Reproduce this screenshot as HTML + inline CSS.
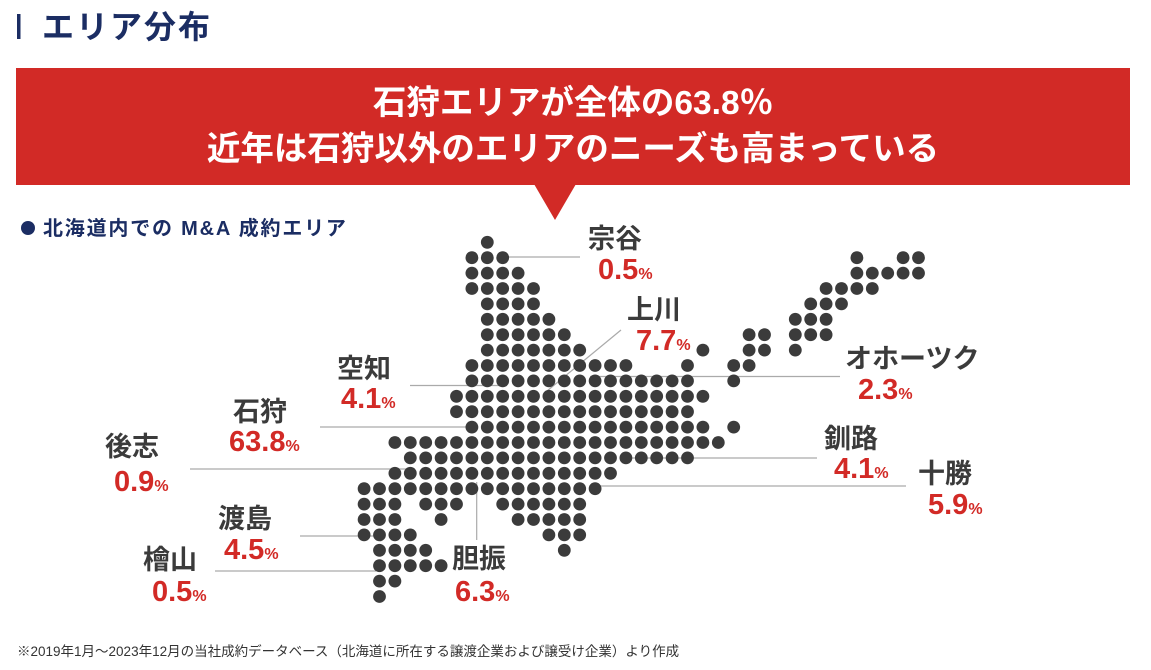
<!DOCTYPE html>
<html><head><meta charset="utf-8"><style>
html,body{margin:0;padding:0;background:#fff;}
body{width:1151px;height:670px;overflow:hidden;position:relative;font-family:"Liberation Sans","Noto Sans CJK JP",sans-serif;}
svg{position:absolute;left:0;top:0;}
</style></head><body>
<svg id="s" width="1151" height="670" xmlns="http://www.w3.org/2000/svg" font-family="Liberation Sans, Noto Sans CJK JP, sans-serif">
<rect x="17" y="14" width="3.5" height="25" fill="#1b2d63"/>
<text x="42" y="38" font-size="32" font-weight="bold" fill="#1b2d63" letter-spacing="2">エリア分布</text>
<rect x="16" y="68" width="1114" height="117" fill="#d22a26"/>
<polygon points="534,184 576,184 555,220" fill="#d22a26"/>
<text x="573" y="114" font-size="33.5" font-weight="bold" fill="#fff" text-anchor="middle">石狩エリアが全体の63.8％</text>
<text x="573" y="160" font-size="33.5" font-weight="bold" fill="#fff" text-anchor="middle">近年は石狩以外のエリアのニーズも高まっている</text>
<circle cx="28" cy="228" r="7" fill="#1b2d63"/>
<text x="43" y="235" font-size="20" font-weight="bold" fill="#1b2d63" letter-spacing="1.8">北海道内での M&amp;A 成約エリア</text>
<g stroke="#aaa" stroke-width="1.2" fill="none">
<line x1="502" y1="257" x2="580" y2="257"/>
<line x1="547" y1="391" x2="621" y2="330"/>
<line x1="410" y1="385.5" x2="507" y2="385.5"/>
<line x1="590" y1="376.5" x2="840" y2="376.5"/>
<line x1="320" y1="427" x2="472" y2="427"/>
<line x1="632" y1="458" x2="817" y2="458"/>
<line x1="190" y1="469" x2="415" y2="469"/>
<line x1="593" y1="486" x2="906" y2="486"/>
<line x1="300" y1="536" x2="382" y2="536"/>
<line x1="215" y1="571" x2="376" y2="571"/>
<line x1="476.7" y1="482" x2="476.7" y2="540"/>
</g>
<g id="dots" fill="#3b3b3b"></g>
<g font-weight="bold">
<g font-size="27" fill="#3b3b3b">
<text x="588" y="248">宗谷</text>
<text x="627" y="319">上川</text>
<text x="337" y="378">空知</text>
<text x="233" y="421">石狩</text>
<text x="105" y="456">後志</text>
<text x="218" y="528">渡島</text>
<text x="143" y="569">檜山</text>
<text x="452" y="568">胆振</text>
<text x="845" y="368">オホーツク</text>
<text x="824" y="448">釧路</text>
<text x="918" y="483">十勝</text>
</g>
<g font-size="29" fill="#d22a26">
<text x="598" y="279">0.5<tspan font-size="16">%</tspan></text>
<text x="636" y="350">7.7<tspan font-size="16">%</tspan></text>
<text x="341" y="408">4.1<tspan font-size="16">%</tspan></text>
<text x="229" y="451">63.8<tspan font-size="16">%</tspan></text>
<text x="114" y="491">0.9<tspan font-size="16">%</tspan></text>
<text x="224" y="559">4.5<tspan font-size="16">%</tspan></text>
<text x="152" y="601">0.5<tspan font-size="16">%</tspan></text>
<text x="455" y="601">6.3<tspan font-size="16">%</tspan></text>
<text x="858" y="399">2.3<tspan font-size="16">%</tspan></text>
<text x="834" y="478">4.1<tspan font-size="16">%</tspan></text>
<text x="928" y="514">5.9<tspan font-size="16">%</tspan></text>
</g>
</g>
<text x="17" y="656" font-size="13.5" fill="#333">※2019年1月～2023年12月の当社成約データベース（北海道に所在する譲渡企業および譲受け企業）より作成</text>
</svg>
<script>
var rows={
0:[[0,0]],1:[[-1,1],[24,24],[27,28]],2:[[-1,2],[24,28]],3:[[-1,3],[22,25]],4:[[0,3],[21,23]],
5:[[0,4],[20,22]],6:[[0,5],[17,18],[20,22]],7:[[0,6],[14,14],[17,18],[20,20]],
8:[[-1,9],[13,13],[16,17]],9:[[-1,13],[16,16]],10:[[-2,14]],11:[[-2,13]],12:[[-1,14],[16,16]],
13:[[-6,15]],14:[[-5,13]],15:[[-6,8]],16:[[-8,7]],17:[[-8,-6],[-4,-2],[1,6]],
18:[[-8,-6],[-3,-3],[2,6]],19:[[-8,-5],[4,6]],20:[[-7,-4],[5,5]],21:[[-7,-3]],22:[[-7,-6]],23:[[-7,-7]]};
var g=document.getElementById('dots'),h='';
for(var r in rows){rows[r].forEach(function(a){for(var c=a[0];c<=a[1];c++){
h+='<circle cx="'+(487.3+15.4*c).toFixed(1)+'" cy="'+(242.3+15.4*r).toFixed(1)+'" r="6.4"/>';}});}
g.innerHTML=h;
</script>
</body></html>
